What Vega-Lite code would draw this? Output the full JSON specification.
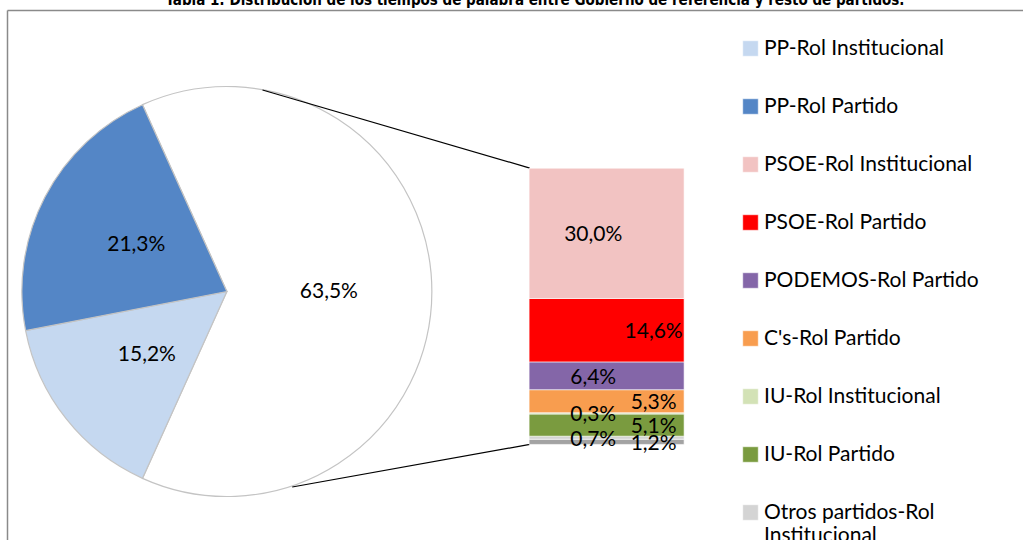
{
  "$schema": "https://vega.github.io/schema/vega-lite/v6.json",
  "width": 1016,
  "height": 530,
  "autosize": {"type": "none"},
  "padding": {"left": 7, "top": 10, "right": 0, "bottom": 0},
  "background": "white",
  "title": {
    "text": "Tabla 1: Distribución de los tiempos de palabra entre Gobierno de referencia y resto de partidos.",
    "font": "Liberation Sans Narrow, DejaVu Sans Condensed, sans-serif",
    "fontWeight": "bold",
    "fontSize": 15,
    "anchor": "middle",
    "baseline": "alphabetic",
    "offset": 2,
    "dx": 20,
    "dy": 12,
    "color": "black"
  },
  "datasets": {
    "pie": [
      {"cat": "Otros", "share": 0.635, "order": 1},
      {"cat": "PP-Rol Institucional", "share": 0.152, "order": 2},
      {"cat": "PP-Rol Partido", "share": 0.213, "order": 3}
    ],
    "bar": [
      {"cat": "Otros partidos-Rol Partido", "share": 0.012, "order": 1},
      {"cat": "Otros partidos-Rol Institucional", "share": 0.007, "order": 2},
      {"cat": "IU-Rol Partido", "share": 0.051, "order": 3},
      {"cat": "IU-Rol Institucional", "share": 0.003, "order": 4},
      {"cat": "C's-Rol Partido", "share": 0.053, "order": 5},
      {"cat": "PODEMOS-Rol Partido", "share": 0.064, "order": 6},
      {"cat": "PSOE-Rol Partido", "share": 0.146, "order": 7},
      {"cat": "PSOE-Rol Institucional", "share": 0.300, "order": 8}
    ]
  },
  "layer": [
    {
      "data": {"name": "pie"},
      "mark": {"type": "arc", "outerRadius": 205, "stroke": "#c4c4c4", "strokeWidth": 1.2},
      "encoding": {
        "x": {"datum": 0.4995, "type": "quantitative", "scale": {"domain": [0, 2.3387], "nice": false, "zero": false}, "axis": {"orient": "top", "title": null}},
        "y": {"datum": 0.352, "type": "quantitative", "scale": {"domain": [-0.22, 1.0], "nice": false, "zero": false}, "axis": {"orient": "left", "title": null}},
        "theta": {"field": "share", "type": "quantitative", "stack": true, "scale": {"range": [-0.424, 5.859]}},
        "order": {"field": "order", "type": "quantitative"},
        "color": {"field": "cat", "type": "nominal",
          "scale": {
            "domain": ["PP-Rol Institucional", "PP-Rol Partido", "PSOE-Rol Institucional", "PSOE-Rol Partido", "PODEMOS-Rol Partido", "C's-Rol Partido", "IU-Rol Institucional", "IU-Rol Partido", "Otros partidos-Rol Institucional", "Otros partidos-Rol Partido", "Otros"],
            "range": ["#c5d8f0", "#5486c6", "#f2c3c2", "#ff0000", "#8466a8", "#f89d4f", "#d3e2b6", "#7a9b3f", "#d4d4d4", "#a3a3a3", "#ffffff"]
          },
          "legend": {
            "values": ["PP-Rol Institucional", "PP-Rol Partido", "PSOE-Rol Institucional", "PSOE-Rol Partido", "PODEMOS-Rol Partido", "C's-Rol Partido", "IU-Rol Institucional", "IU-Rol Partido", "Otros partidos-Rol Institucional", "Otros partidos-Rol Partido"],
            "orient": "none",
            "legendX": 733,
            "legendY": 28,
            "title": null,
            "symbolType": "square",
            "symbolSize": 240,
            "symbolStrokeColor": "#b0b0b0",
            "symbolStrokeWidth": 0.5,
            "labelFont": "Lato",
            "labelFontSize": 21,
            "labelColor": "black",
            "labelOffset": 3,
            "labelLimit": 400,
            "rowPadding": 36,
            "padding": 0,
            "labelExpr": "datum.label == 'Otros partidos-Rol Institucional' ? ['Otros partidos-Rol', 'Institucional'] : datum.label"
          }
        }
      }
    },
    {
      "data": {"name": "pie"},
      "mark": {"type": "text", "radius": 102, "font": "Lato", "fontSize": 21, "color": "black", "align": "center", "baseline": "middle"},
      "encoding": {
        "x": {"datum": 0.4995, "type": "quantitative"},
        "y": {"datum": 0.352, "type": "quantitative"},
        "theta": {"field": "share", "type": "quantitative", "stack": true, "scale": {"range": [-0.424, 5.859]}},
        "order": {"field": "order", "type": "quantitative"},
        "text": {"field": "share", "type": "quantitative", "format": ".1%"}
      }
    },
    {
      "data": {"values": [{}]},
      "mark": {"type": "rule", "color": "black", "strokeWidth": 1.2},
      "encoding": {
        "x": {"datum": 0.5824, "type": "quantitative"},
        "y": {"datum": 0.8159, "type": "quantitative"},
        "x2": {"datum": 1.2039},
        "y2": {"datum": 0.636}
      }
    },
    {
      "data": {"values": [{}]},
      "mark": {"type": "rule", "color": "black", "strokeWidth": 1.2},
      "encoding": {
        "x": {"datum": 0.6514, "type": "quantitative"},
        "y": {"datum": -0.098, "type": "quantitative"},
        "x2": {"datum": 1.2039},
        "y2": {"datum": 0.0}
      }
    },
    {
      "data": {"name": "bar"},
      "transform": [
        {"stack": "share", "groupby": [], "sort": [{"field": "order", "order": "ascending"}], "as": ["y0", "y1"]}
      ],
      "mark": {"type": "bar", "width": 155, "stroke": "#ffffff", "strokeWidth": 0.6},
      "encoding": {
        "x": {"datum": 1.3823, "type": "quantitative"},
        "y": {"field": "y0", "type": "quantitative"},
        "y2": {"field": "y1"},
        "color": {"field": "cat", "type": "nominal"}
      }
    },
    {
      "data": {"name": "bar"},
      "transform": [
        {"stack": "share", "groupby": [], "sort": [{"field": "order", "order": "ascending"}], "as": ["y0", "y1"]},
        {"fold": ["y0", "y1"], "as": ["k", "v"]},
        {"aggregate": [{"op": "mean", "field": "v", "as": "mid"}], "groupby": ["cat", "share", "order"]},
        {"filter": {"field": "cat", "oneOf": ["PSOE-Rol Institucional", "PODEMOS-Rol Partido", "IU-Rol Institucional", "Otros partidos-Rol Institucional"]}}
      ],
      "mark": {"type": "text", "font": "Lato", "fontSize": 21, "color": "black", "align": "center", "baseline": "middle", "dy": 2},
      "encoding": {
        "x": {"datum": 1.3512, "type": "quantitative"},
        "y": {"field": "mid", "type": "quantitative"},
        "text": {"field": "share", "type": "quantitative", "format": ".1%"}
      }
    },
    {
      "data": {"name": "bar"},
      "transform": [
        {"stack": "share", "groupby": [], "sort": [{"field": "order", "order": "ascending"}], "as": ["y0", "y1"]},
        {"fold": ["y0", "y1"], "as": ["k", "v"]},
        {"aggregate": [{"op": "mean", "field": "v", "as": "mid"}], "groupby": ["cat", "share", "order"]},
        {"filter": {"field": "cat", "oneOf": ["PSOE-Rol Partido", "C's-Rol Partido", "IU-Rol Partido", "Otros partidos-Rol Partido"]}}
      ],
      "mark": {"type": "text", "font": "Lato", "fontSize": 21, "color": "black", "align": "center", "baseline": "middle", "dy": 2},
      "encoding": {
        "x": {"datum": 1.4916, "type": "quantitative"},
        "y": {"field": "mid", "type": "quantitative"},
        "text": {"field": "share", "type": "quantitative", "format": ".1%"}
      }
    }
  ],
  "config": {
    "locale": {"number": {"decimal": ",", "thousands": ".", "grouping": [3], "currency": ["", " €"]}},
    "view": {"stroke": null},
    "axis": {"domainColor": "#8a8a8a", "domainWidth": 1.5, "ticks": false, "labels": false, "grid": false}
  }
}
